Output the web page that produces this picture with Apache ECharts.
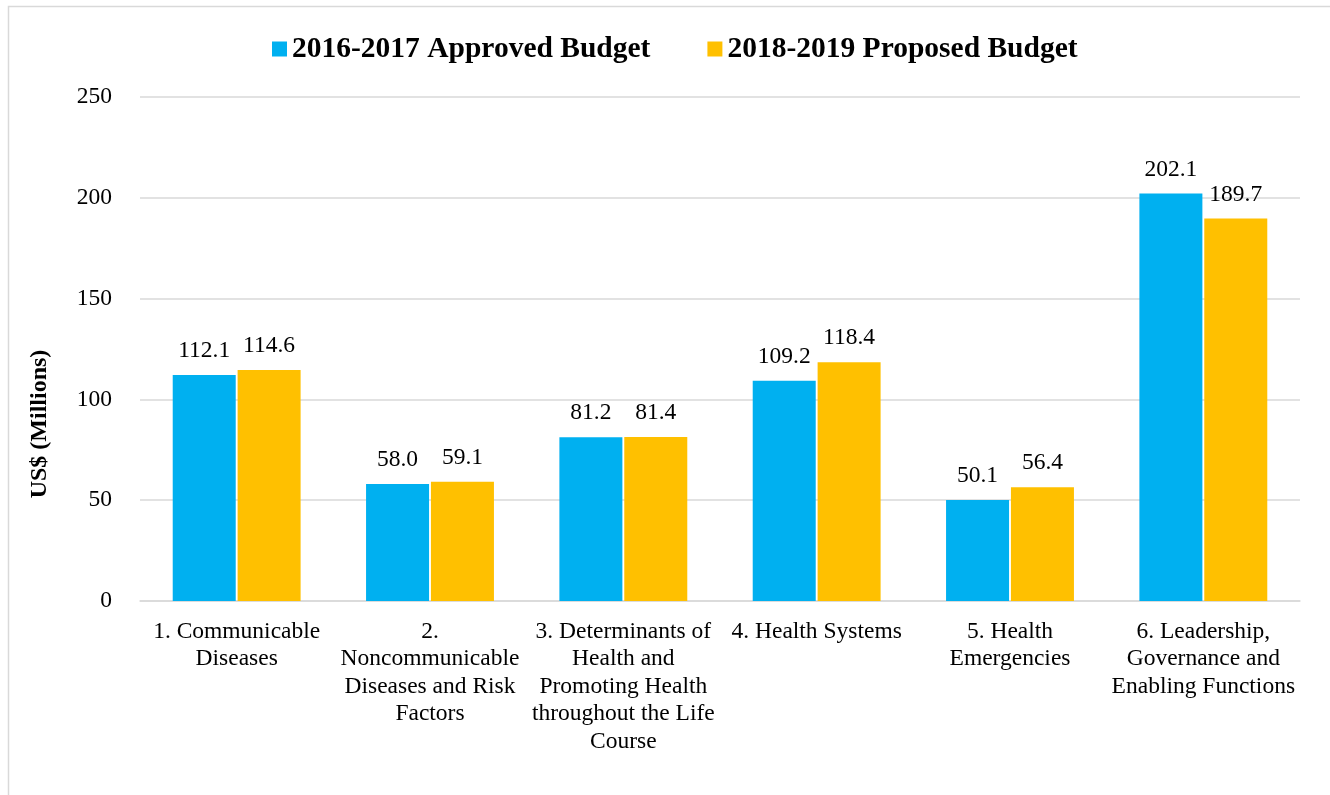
<!DOCTYPE html>
<html>
<head>
<meta charset="utf-8">
<script src="https://cdn.jsdelivr.net/npm/echarts@6/dist/echarts.min.js"></script>
<style>
html,body{margin:0;padding:0;background:#fff;}
#chart{width:1330px;height:795px;}
</style>
</head>
<body>
<div id="chart"></div>
<script>
const categories = [
  "1. Communicable\nDiseases",
  "2.\nNoncommunicable\nDiseases and Risk\nFactors",
  "3. Determinants of\nHealth and\nPromoting Health\nthroughout the Life\nCourse",
  "4. Health Systems",
  "5. Health\nEmergencies",
  "6. Leadership,\nGovernance and\nEnabling Functions"
];
const seriesNames = ["2016-2017 Approved Budget", "2018-2019 Proposed Budget"];
const approved2016 = [112.1, 58.0, 81.2, 109.2, 50.1, 202.1];
const proposed2018 = [114.6, 59.1, 81.4, 118.4, 56.4, 189.7];
const yTicks = [0, 50, 100, 150, 200, 250];
const yAxisTitle = "US$ (Millions)";

const FONT = "'Liberation Serif', 'Times New Roman', serif";
const chart = echarts.init(document.getElementById('chart'), null, {renderer: 'canvas'});

function barSeries(name, data, color) {
  return {
    name: name,
    type: 'bar',
    data: data,
    barWidth: 63,
    barGap: '3%',
    itemStyle: {color: color},
    label: {
      show: true,
      position: 'top',
      distance: 12,
      color: '#000',
      fontFamily: FONT,
      fontSize: 23.5,
      formatter: p => p.value.toFixed(1)
    }
  };
}

chart.setOption({
  animation: false,
  backgroundColor: '#fff',
  textStyle: {fontFamily: FONT, color: '#000'},
  graphic: [{
    type: 'rect',
    shape: {x: 8.5, y: 6.5, width: 1400, height: 900},
    style: {fill: 'none', stroke: '#d9d9d9', lineWidth: 1.5},
    silent: true
  }, {
    type: 'text',
    x: 40,
    y: 424,
    rotation: Math.PI / 2,
    style: {
      text: yAxisTitle,
      fontFamily: FONT,
      fontSize: 24,
      fontWeight: 'bold',
      fill: '#000',
      align: 'center',
      verticalAlign: 'middle'
    },
    silent: true
  }],
  legend: {
    top: 29,
    left: 267,
    itemWidth: 15,
    itemHeight: 15,
    itemGap: 57,
    icon: 'rect',
    textStyle: {fontFamily: FONT, fontSize: 29.5, fontWeight: 'bold', color: '#000'},
    data: seriesNames
  },
  grid: {left: 140, right: 30, top: 97, bottom: 194},
  xAxis: {
    type: 'category',
    data: categories,
    axisLine: {show: true, lineStyle: {color: '#d9d9d9', width: 1.5}},
    axisTick: {show: false},
    axisLabel: {
      interval: 0,
      margin: 17,
      color: '#000',
      fontFamily: FONT,
      fontSize: 23.5,
      lineHeight: 27.5,
      align: 'center'
    }
  },
  yAxis: {
    type: 'value',
    min: yTicks[0],
    max: yTicks[yTicks.length - 1],
    interval: 50,
    axisLine: {show: false},
    axisTick: {show: false},
    axisLabel: {color: '#000', fontFamily: FONT, fontSize: 23.5, margin: 28},
    splitLine: {lineStyle: {color: '#d9d9d9', width: 1.5}}
  },
  series: [
    barSeries(seriesNames[0], approved2016, '#00B0F0'),
    barSeries(seriesNames[1], proposed2018, '#FFC000')
  ]
});
</script>
</body>
</html>
